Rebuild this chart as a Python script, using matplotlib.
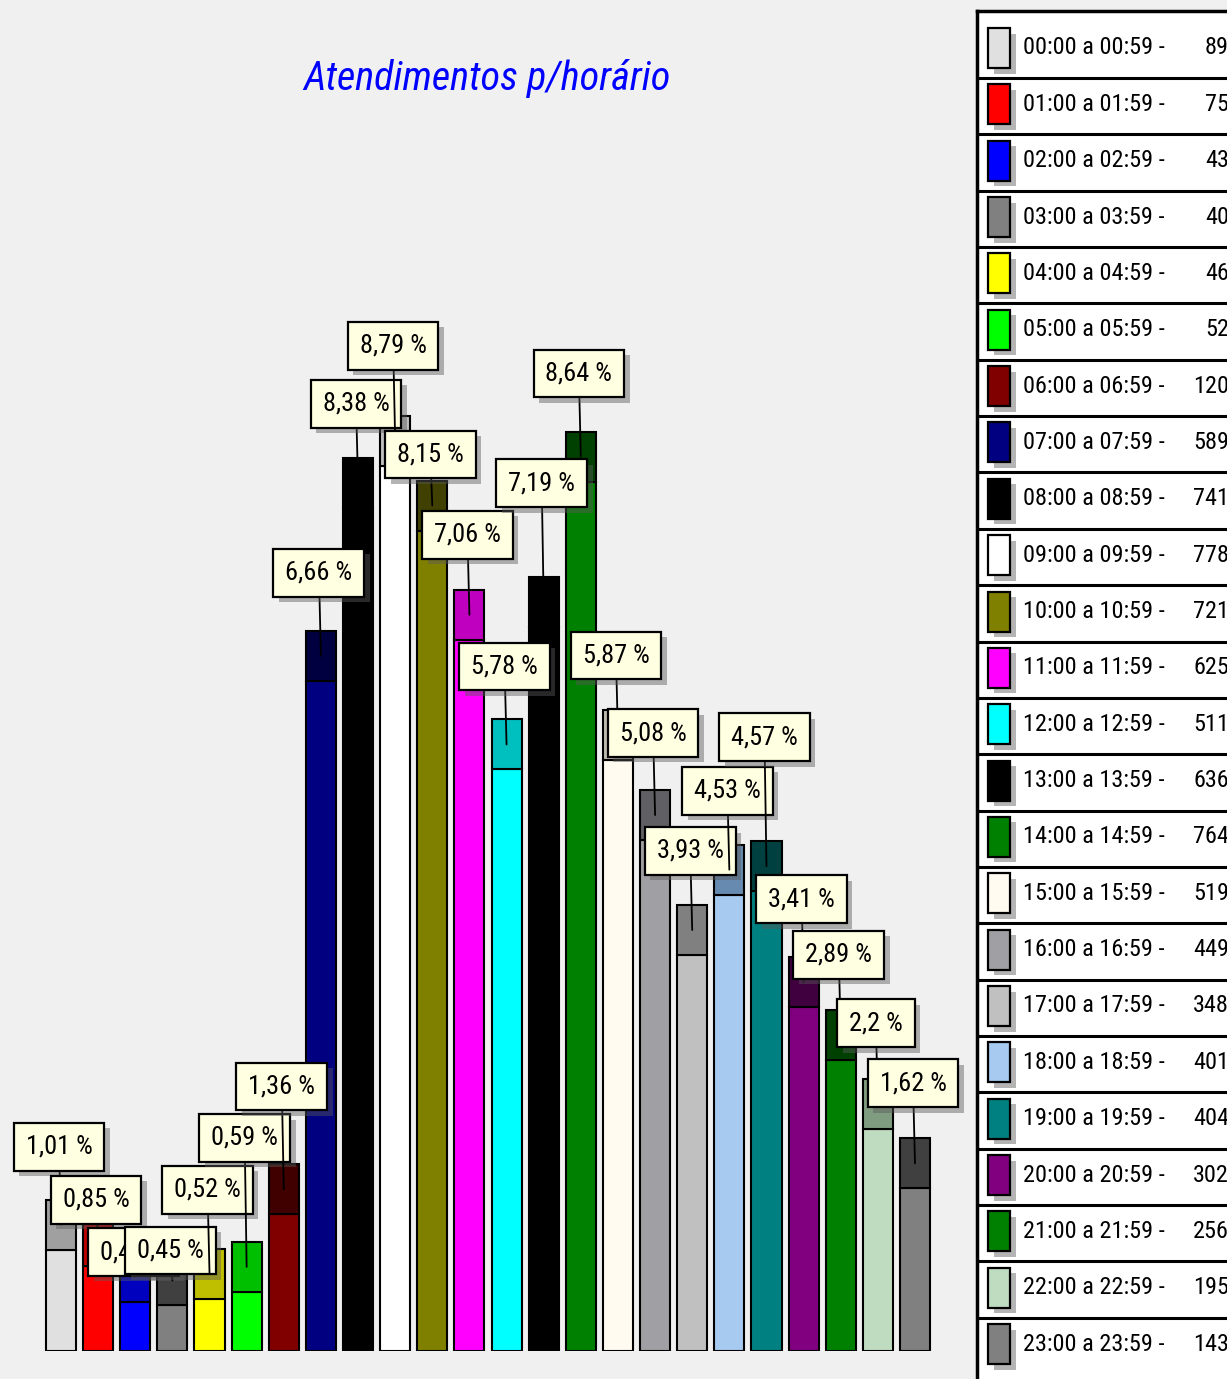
import matplotlib
matplotlib.use('Agg')
import matplotlib.pyplot as plt
from matplotlib import font_manager as fm
from matplotlib import patheffects as pe
from matplotlib.patches import Rectangle

# dados
horarios = ['00:00 a 00:59', '01:00 a 01:59', '02:00 a 02:59', '03:00 a 03:59',
            '04:00 a 04:59', '05:00 a 05:59', '06:00 a 06:59', '07:00 a 07:59',
            '08:00 a 08:59', '09:00 a 09:59', '10:00 a 10:59', '11:00 a 11:59',
            '12:00 a 12:59', '13:00 a 13:59', '14:00 a 14:59', '15:00 a 15:59',
            '16:00 a 16:59', '17:00 a 17:59', '18:00 a 18:59', '19:00 a 19:59',
            '20:00 a 20:59', '21:00 a 21:59', '22:00 a 22:59', '23:00 a 23:59']
atendimentos = [89, 75, 43, 40, 46, 52, 120, 589, 741, 778, 721, 625,
                511, 636, 764, 519, 449, 348, 401, 404, 302, 256, 195, 143]
percentuais = ['1,01 %', '0,85 %', '0,49 %', '0,45 %', '0,52 %', '0,59 %',
               '1,36 %', '6,66 %', '8,38 %', '8,79 %', '8,15 %', '7,06 %',
               '5,78 %', '7,19 %', '8,64 %', '5,87 %', '5,08 %', '3,93 %',
               '4,53 %', '4,57 %', '3,41 %', '2,89 %', '2,2 %', '1,62 %']
cores = ['#e0e0e0', '#ff0000', '#0000ff', '#808080', '#ffff00', '#00ff00',
         '#800000', '#000080', '#000000', '#ffffff', '#808000', '#ff00ff',
         '#00ffff', '#000000', '#008000', '#fffbf0', '#a0a0a4', '#c0c0c0',
         '#a6caf0', '#008080', '#800080', '#008000', '#c0dcc0', '#808080']

# layout: subida de cada etiqueta acima do topo da barra (px)
subida = [53, 16, 0, 5, 59, 104, 78, 58, 54, 70, 26, 55,
          53, 94, 58, 55, 57, 54, 54, 104, 58, 55, 56, 55]

# escolhe uma fonte estreita se houver
nomes = {f.name for f in fm.fontManager.ttflist}
estreita = 'Liberation Sans'
for n in ['Liberation Sans Narrow', 'Arial Narrow', 'Roboto Condensed',
          'Open Sans Condensed', 'DejaVu Sans Condensed']:
    if n in nomes:
        estreita = n
        break
fam = [estreita, 'DejaVu Sans']

def escurece(c):
    r, g, b = matplotlib.colors.to_rgb(c)
    return tuple(max(v - 64 / 255, 0) for v in (r, g, b))

topo = [escurece(c) for c in cores]

W, H = 1227, 1379
fig = plt.figure(figsize=(W / 100, H / 100), dpi=100, facecolor='#f0f0f0')

px_por_val = 1.138
base = 1351
ax = fig.add_axes([0, (H - base) / H, 975 / W, base / H])
ax.set_ylim(0, base / px_por_val)
passo = 37.13
ax.set_xlim(-61 / passo, (975 - 61) / passo)
ax.axis('off')

prof = 50 / px_por_val  # profundidade do topo 3D
x = list(range(len(atendimentos)))
ax.bar(x, atendimentos, width=0.81, color=cores, edgecolor='black', linewidth=1.5, zorder=2)
ax.bar(x, prof, bottom=atendimentos, width=0.81, color=topo, edgecolor='black',
       linewidth=1.5, zorder=2)

sombra = [pe.SimplePatchShadow(offset=(4, -4), shadow_rgbFace='0.35', alpha=0.45), pe.Normal()]

for i, (v, txt, s) in enumerate(zip(atendimentos, percentuais, subida)):
    a = ax.annotate(txt, xy=(i, v + prof / 2), xytext=(-2, s + 25),
                    textcoords='offset pixels', ha='center', va='center',
                    fontsize=19, family=fam,
                    bbox=dict(boxstyle='square,pad=0.45', fc='#ffffe1', ec='black', lw=1.6),
                    arrowprops=dict(arrowstyle='-', color='black', lw=1.3,
                                    shrinkA=0, shrinkB=0),
                    zorder=5 + i)
    a.get_bbox_patch().set_path_effects(sombra)

fig.text(487 / W, 1 - 78 / H, 'Atendimentos p/horário', color='#0000ff',
         fontsize=29, style='italic', family=fam, ha='center', va='center')

# legenda
lg = fig.add_axes([977 / W, 0, (1260 - 977) / W, (H - 11) / H])
lg.set_xlim(977, 1260)
lg.set_ylim(H, 11)
lg.set_facecolor('white')
lg.set_xticks([])
lg.set_yticks([])
for k in ['right', 'bottom']:
    lg.spines[k].set_visible(False)
for k in ['left', 'top']:
    lg.spines[k].set_linewidth(2.5)

linha = 56.35
for i, (h, n, c) in enumerate(zip(horarios, atendimentos, cores)):
    fundo = 78 + linha * i
    if i < len(horarios) - 1:
        lg.axhline(fundo, color='black', lw=2.2)
    yc = fundo - 30
    r = Rectangle((988, yc - 20), 22, 40, fc=c, ec='black', lw=1.6, zorder=3)
    r.set_path_effects(sombra)
    lg.add_patch(r)
    lg.text(1023, yc, h + ' -', ha='left', va='center', fontsize=17.5, family=fam)
    lg.text(1229, yc, str(n), ha='right', va='center', fontsize=17.5, family=fam)

fig.savefig('out.png', dpi=100, facecolor=fig.get_facecolor())
